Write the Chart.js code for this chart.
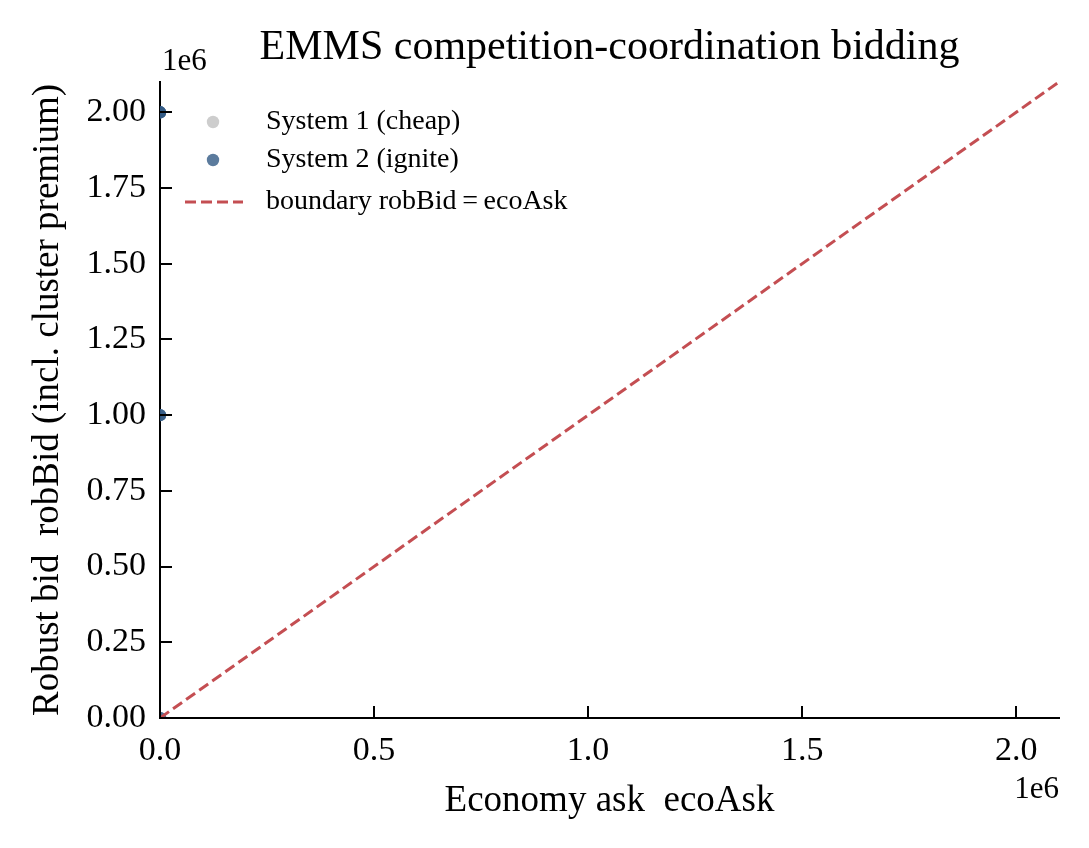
<!DOCTYPE html>
<html>
<head>
<meta charset="utf-8">
<script src="https://cdn.jsdelivr.net/npm/chart.js@4/dist/chart.umd.min.js"></script>
<style>
html,body{margin:0;padding:0;background:#fff;}
#wrap{width:1089px;height:848px;position:relative;}
</style>
</head>
<body>
<div id="wrap"><canvas id="c" width="1089" height="848"></canvas></div>
<script>
const TITLE = "EMMS competition-coordination bidding";
const X_LABEL = "Economy ask  ecoAsk";
const Y_LABEL = "Robust bid  robBid (incl. cluster premium)";
const SERIES_NAMES = ["System 1 (cheap)", "System 2 (ignite)", "boundary robBid\u2009=\u2009ecoAsk"];
const sys1Eco = [0];
const sys1Rob = [0];
const sys2Eco = [0, 0, 0, 0, 0, 0];
const sys2Rob = [0, 1000000, 1000000, 2000000, 2000000, 2000000];
const boundary = [0, 2100000];
const AXIS_MAX = 2100000;
const X_TICKS = [0, 500000, 1000000, 1500000, 2000000];
const Y_TICKS = [0, 250000, 500000, 750000, 1000000, 1250000, 1500000, 1750000, 2000000];
const OFFSET_TEXT = "1e6";

const FONT = "'Liberation Serif', 'Times New Roman', serif";
const C1 = 'rgba(200,200,200,0.9)';
const C2 = 'rgba(50,90,132,0.8)';
const CR = '#c44e52';
const R = 6.2;

const toPts = (xs, ys) => xs.map((x, i) => ({x: x, y: ys[i]}));

const decor = {
  id: 'decor',
  afterDraw(chart) {
    const ctx = chart.ctx;
    const xs = chart.scales.x, ys = chart.scales.y;
    const ca = chart.chartArea;
    ctx.save();
    // inward ticks
    ctx.strokeStyle = '#000';
    ctx.lineWidth = 2;
    const L = 12;
    xs.ticks.forEach(t => {
      const px = Math.round(xs.getPixelForValue(t.value));
      ctx.beginPath(); ctx.moveTo(px, ca.bottom); ctx.lineTo(px, ca.bottom - L); ctx.stroke();
    });
    ys.ticks.forEach(t => {
      const py = Math.round(ys.getPixelForValue(t.value));
      ctx.beginPath(); ctx.moveTo(ca.left, py); ctx.lineTo(ca.left + L, py); ctx.stroke();
    });
    // title
    ctx.fillStyle = '#000';
    ctx.font = "42px " + FONT;
    ctx.textAlign = 'center'; ctx.textBaseline = 'middle';
    ctx.fillText(TITLE, (ca.left + ca.right) / 2, 48);
    // offset texts
    ctx.font = "31px " + FONT;
    ctx.textAlign = 'left';
    ctx.fillText(OFFSET_TEXT, ca.left + 2, 62);
    ctx.textAlign = 'right';
    ctx.fillText(OFFSET_TEXT, ca.right, 790);
    // legend
    ctx.font = "28px " + FONT;
    ctx.textAlign = 'left'; ctx.textBaseline = 'middle';
    const mx = 213, tx = 266;
    const rows = [122, 160, 202];
    ctx.fillStyle = C1;
    ctx.beginPath(); ctx.arc(mx, rows[0], R, 0, Math.PI * 2); ctx.fill();
    ctx.fillStyle = C2;
    ctx.beginPath(); ctx.arc(mx, rows[1], R, 0, Math.PI * 2); ctx.fill();
    ctx.strokeStyle = CR; ctx.lineWidth = 3; ctx.setLineDash([11, 5]);
    ctx.beginPath(); ctx.moveTo(185, rows[2]); ctx.lineTo(243, rows[2]); ctx.stroke();
    ctx.setLineDash([]);
    ctx.fillStyle = '#000';
    SERIES_NAMES.forEach((n, i) => ctx.fillText(n, tx, rows[i]));
    ctx.restore();
  }
};

new Chart(document.getElementById('c'), {
  type: 'scatter',
  data: {
    datasets: [
      {
        type: 'line', label: SERIES_NAMES[2],
        data: toPts(boundary, boundary),
        borderColor: CR, borderWidth: 3, borderDash: [11, 5],
        pointRadius: 0, fill: false, order: 0
      },
      {
        label: SERIES_NAMES[1], data: toPts(sys2Eco, sys2Rob),
        backgroundColor: C2, borderWidth: 0, pointRadius: R, order: 1
      },
      {
        label: SERIES_NAMES[0], data: toPts(sys1Eco, sys1Rob),
        backgroundColor: C1, borderWidth: 0, pointRadius: R, order: 2
      }
    ]
  },
  options: {
    responsive: false, animation: false,
    layout: {padding: {top: 82, right: 30, left: 0, bottom: 0}},
    plugins: {legend: {display: false}, tooltip: {enabled: false}, title: {display: false}},
    scales: {
      x: {
        type: 'linear', min: 0, max: AXIS_MAX,
        afterFit: s => { s.height = 130; },
        afterBuildTicks: s => { s.ticks = X_TICKS.map(v => ({value: v})); },
        grid: {display: false},
        border: {display: true, color: '#000', width: 2},
        ticks: {color: '#000', padding: 5, maxRotation: 0, autoSkip: false,
          font: {family: FONT, size: 34},
          callback: v => (v / 1e6).toFixed(1)},
        title: {display: true, text: X_LABEL, color: '#000', font: {family: FONT, size: 37},
          padding: {top: 0, bottom: 25}}
      },
      y: {
        type: 'linear', min: 0, max: AXIS_MAX,
        afterFit: s => { s.width = 160; },
        afterBuildTicks: s => { s.ticks = Y_TICKS.map(v => ({value: v})); },
        grid: {display: false},
        border: {display: true, color: '#000', width: 2},
        ticks: {color: '#000', padding: 6, autoSkip: false,
          font: {family: FONT, size: 34},
          callback: v => (v / 1e6).toFixed(2)},
        title: {display: true, text: Y_LABEL, color: '#000', font: {family: FONT, size: 37},
          padding: {top: 26, bottom: 0}}
      }
    }
  },
  plugins: [decor]
});
</script>
</body>
</html>
